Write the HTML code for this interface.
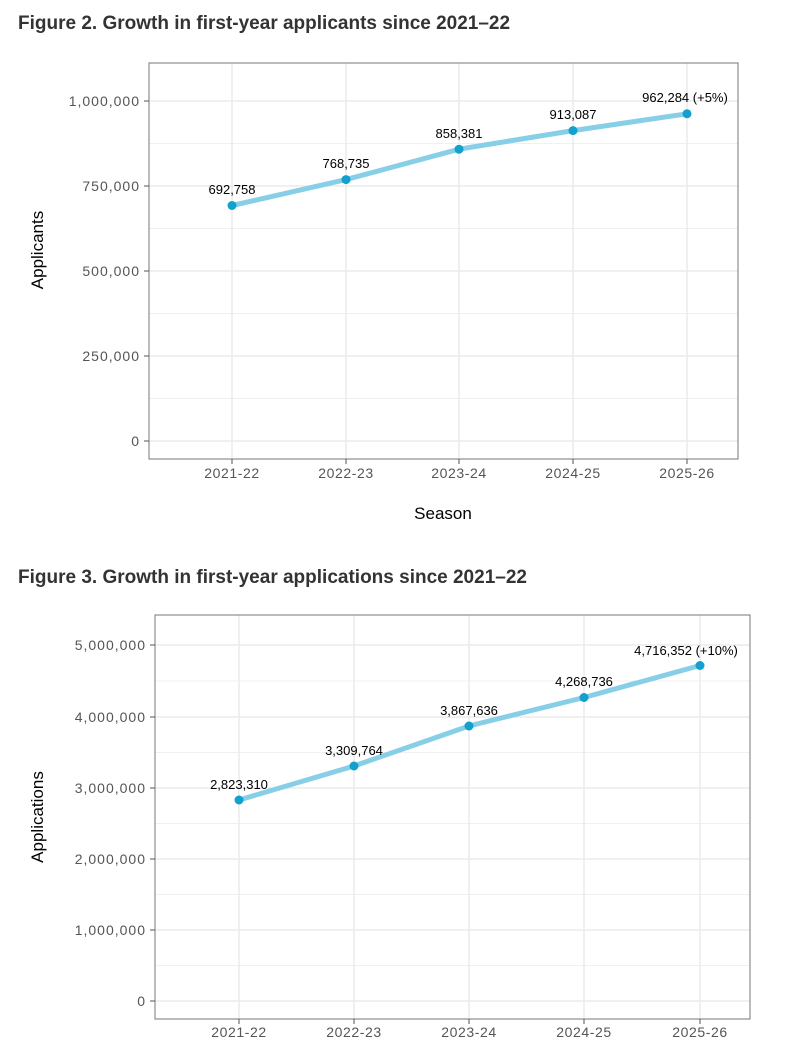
<!DOCTYPE html>
<html><head><meta charset="utf-8"><style>
body{margin:0;background:#fff;width:786px;height:1055px;overflow:hidden}
svg{position:absolute;left:0;top:0}
.t{font-family:"Liberation Sans",sans-serif;font-weight:bold;font-size:19px;fill:#333}
.ax{font-family:"Liberation Sans",sans-serif;font-size:14px;fill:#555;letter-spacing:1px}
.axx{font-family:"Liberation Sans",sans-serif;font-size:14px;fill:#555;letter-spacing:0.6px}
.lb{font-family:"Liberation Sans",sans-serif;font-size:13px;fill:#000}
.ti{font-family:"Liberation Sans",sans-serif;font-size:17px;fill:#000}
</style></head><body>
<svg width="786" height="1055" xmlns="http://www.w3.org/2000/svg">
<text class="t" x="18" y="29">Figure 2. Growth in first-year applicants since 2021–22</text>
<g stroke="#ebebeb" stroke-width="0.8">
<line x1="149" x2="738" y1="143.5" y2="143.5"/><line x1="149" x2="738" y1="228.5" y2="228.5"/><line x1="149" x2="738" y1="313.5" y2="313.5"/><line x1="149" x2="738" y1="398.5" y2="398.5"/></g>
<g stroke="#ebebeb" stroke-width="1.5">
<line x1="149" x2="738" y1="101" y2="101"/><line x1="149" x2="738" y1="186" y2="186"/><line x1="149" x2="738" y1="271" y2="271"/><line x1="149" x2="738" y1="356" y2="356"/><line x1="149" x2="738" y1="441" y2="441"/>
<line x1="232" x2="232" y1="63" y2="459"/><line x1="346" x2="346" y1="63" y2="459"/><line x1="459" x2="459" y1="63" y2="459"/><line x1="573" x2="573" y1="63" y2="459"/><line x1="687" x2="687" y1="63" y2="459"/></g>
<rect x="149" y="63" width="589" height="396" fill="none" stroke="#777" stroke-width="1"/>
<g stroke="#555"><line x1="144" x2="149" y1="101" y2="101"/><line x1="144" x2="149" y1="186" y2="186"/><line x1="144" x2="149" y1="271" y2="271"/><line x1="144" x2="149" y1="356" y2="356"/><line x1="144" x2="149" y1="441" y2="441"/>
<line x1="232" x2="232" y1="459" y2="464"/><line x1="346" x2="346" y1="459" y2="464"/><line x1="459" x2="459" y1="459" y2="464"/><line x1="573" x2="573" y1="459" y2="464"/><line x1="687" x2="687" y1="459" y2="464"/></g>
<g class="ax" text-anchor="end"><text x="140" y="106">1,000,000</text><text x="140" y="191">750,000</text><text x="140" y="276">500,000</text><text x="140" y="361">250,000</text><text x="140" y="446">0</text></g>
<g class="axx" text-anchor="middle"><text x="232" y="478">2021-22</text><text x="346" y="478">2022-23</text><text x="459" y="478">2023-24</text><text x="573" y="478">2024-25</text><text x="687" y="478">2025-26</text></g>
<text class="ti" x="443" y="519" text-anchor="middle">Season</text>
<text class="ti" transform="translate(43,250) rotate(-90)" text-anchor="middle">Applicants</text>
<polyline points="232,205.5 346,179.6 459,149.2 573,130.6 687,113.8" fill="none" stroke="#87cfe6" stroke-width="5" stroke-linecap="round"/>
<g fill="#13a0cc"><circle cx="232" cy="205.5" r="4.5"/><circle cx="346" cy="179.6" r="4.5"/><circle cx="459" cy="149.2" r="4.5"/><circle cx="573" cy="130.6" r="4.5"/><circle cx="687" cy="113.8" r="4.5"/></g>
<g class="lb" text-anchor="middle"><text x="232" y="194">692,758</text><text x="346" y="168">768,735</text><text x="459" y="138">858,381</text><text x="573" y="119">913,087</text><text x="685" y="102">962,284 (+5%)</text></g>

<text class="t" x="18" y="583">Figure 3. Growth in first-year applications since 2021–22</text>
<g stroke="#ebebeb" stroke-width="0.8">
<line x1="155" x2="750" y1="681" y2="681"/><line x1="155" x2="750" y1="752.5" y2="752.5"/><line x1="155" x2="750" y1="823.5" y2="823.5"/><line x1="155" x2="750" y1="894.5" y2="894.5"/><line x1="155" x2="750" y1="965.5" y2="965.5"/></g>
<g stroke="#ebebeb" stroke-width="1.5">
<line x1="155" x2="750" y1="645" y2="645"/><line x1="155" x2="750" y1="717" y2="717"/><line x1="155" x2="750" y1="788" y2="788"/><line x1="155" x2="750" y1="859" y2="859"/><line x1="155" x2="750" y1="930" y2="930"/><line x1="155" x2="750" y1="1001" y2="1001"/>
<line x1="239" x2="239" y1="615" y2="1019"/><line x1="354" x2="354" y1="615" y2="1019"/><line x1="469" x2="469" y1="615" y2="1019"/><line x1="584" x2="584" y1="615" y2="1019"/><line x1="700" x2="700" y1="615" y2="1019"/></g>
<rect x="155" y="615" width="595" height="404" fill="none" stroke="#777" stroke-width="1"/>
<g stroke="#555"><line x1="150" x2="155" y1="645" y2="645"/><line x1="150" x2="155" y1="717" y2="717"/><line x1="150" x2="155" y1="788" y2="788"/><line x1="150" x2="155" y1="859" y2="859"/><line x1="150" x2="155" y1="930" y2="930"/><line x1="150" x2="155" y1="1001" y2="1001"/>
<line x1="239" x2="239" y1="1019" y2="1024"/><line x1="354" x2="354" y1="1019" y2="1024"/><line x1="469" x2="469" y1="1019" y2="1024"/><line x1="584" x2="584" y1="1019" y2="1024"/><line x1="700" x2="700" y1="1019" y2="1024"/></g>
<g class="ax" text-anchor="end"><text x="146" y="650">5,000,000</text><text x="146" y="722">4,000,000</text><text x="146" y="793">3,000,000</text><text x="146" y="864">2,000,000</text><text x="146" y="935">1,000,000</text><text x="146" y="1006">0</text></g>
<g class="axx" text-anchor="middle"><text x="239" y="1037">2021-22</text><text x="354" y="1037">2022-23</text><text x="469" y="1037">2023-24</text><text x="584" y="1037">2024-25</text><text x="700" y="1037">2025-26</text></g>
<text class="ti" transform="translate(43,817) rotate(-90)" text-anchor="middle">Applications</text>
<polyline points="239,800 354,766 469,726 584,697.5 700,665.5" fill="none" stroke="#87cfe6" stroke-width="5" stroke-linecap="round"/>
<g fill="#13a0cc"><circle cx="239" cy="800" r="4.5"/><circle cx="354" cy="766" r="4.5"/><circle cx="469" cy="726" r="4.5"/><circle cx="584" cy="697.5" r="4.5"/><circle cx="700" cy="665.5" r="4.5"/></g>
<g class="lb" text-anchor="middle"><text x="239" y="789">2,823,310</text><text x="354" y="755">3,309,764</text><text x="469" y="715">3,867,636</text><text x="584" y="686">4,268,736</text><text x="686" y="655">4,716,352 (+10%)</text></g>
</svg>
</body></html>
